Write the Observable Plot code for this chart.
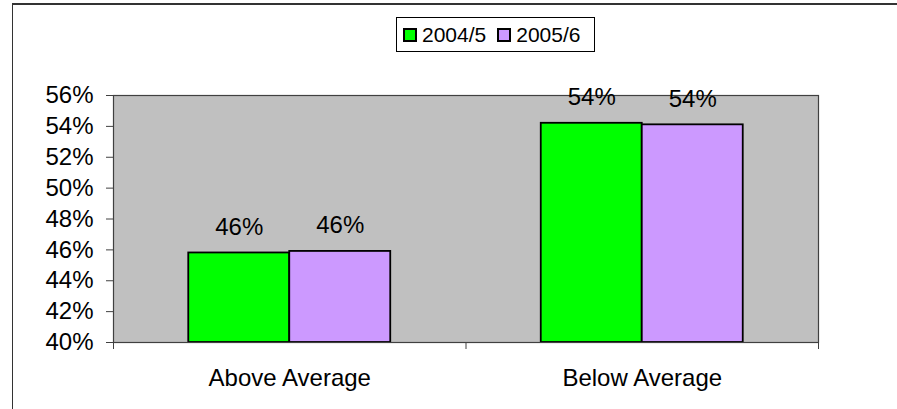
<!DOCTYPE html>
<html>
<head>
<meta charset="utf-8">
<script src="https://cdn.jsdelivr.net/npm/d3@7"></script>
<script src="https://cdn.jsdelivr.net/npm/@observablehq/plot@0.6"></script>
<style>
  html, body { margin: 0; padding: 0; background: #fff; }
  body { width: 897px; height: 409px; position: relative; overflow: hidden; font-family: "Liberation Sans", Arial, sans-serif; }
  #outer { position: absolute; left: 12px; top: 3px; right: -10px; bottom: -10px; border-top: 2px solid #333; border-left: 1px solid #333; pointer-events: none; }
  #head { height: 56px; position: relative; }
  #legend { position: absolute; left: 396px; top: 17px; width: 191px; height: 33px; border: 1px solid #000; display: flex; align-items: center; padding-left: 6px; box-sizing: content-box; font-size: 21px; color: #000; }
  #legend .sw { width: 10px; height: 10px; border: 2px solid #000; margin-right: 5px; }
  #legend .item { display: flex; align-items: center; margin-right: 11px; }
  #chart svg { display: block; }
</style>
</head>
<body>
<div id="head"><div id="legend"></div></div>
<div id="chart"></div>
<div id="outer"></div>
<script>
const categories = ["Above Average", "Below Average"];
const years = ["2004/5", "2005/6"];
const values2004 = [45.8, 54.2];
const values2005 = [45.9, 54.1];
const yTicks = [40, 42, 44, 46, 48, 50, 52, 54, 56];
const colors = ["#00ff00", "#cc99ff"];

const series = [values2004, values2005];
const barWidth = 0.2865; // in category units
const rows = categories.flatMap((c, i) => years.map((yr, j) => ({
  cat: c, ci: i, year: yr, yi: j, value: series[j][i],
  x1: i - barWidth + j * barWidth, x2: i + j * barWidth
})));

// legend
const legend = document.getElementById("legend");
years.forEach((yr, j) => {
  const item = document.createElement("div");
  item.className = "item";
  item.innerHTML = `<div class="sw" style="background:${colors[j]}"></div><span>${yr}</span>`;
  legend.appendChild(item);
});

const plot = Plot.plot({
  width: 897,
  height: 353,
  marginTop: 39,
  marginBottom: 67,
  marginLeft: 113,
  marginRight: 79,
  style: { fontFamily: "Liberation Sans, Arial, sans-serif", fontSize: "24px", color: "#000", background: "transparent" },
  x: { type: "linear", domain: [-0.5, categories.length - 0.5], axis: null },
  y: { domain: [yTicks[0], yTicks[yTicks.length - 1]], axis: null },
  color: { domain: years, range: colors },
  marks: [
    Plot.frame({ fill: "#c0c0c0", stroke: null }),
    Plot.rectY(rows, {
      x1: "x1", x2: "x2", y1: () => yTicks[0], y2: "value",
      fill: "year", stroke: "#000", strokeWidth: 1.8
    }),
    Plot.frame({ stroke: "#404040", strokeWidth: 1.2 }),
    Plot.axisY({ ticks: yTicks, tickFormat: d => d + "%", tickSize: 7, tickPadding: 13, fontSize: 24, stroke: "#404040", label: null }),
    Plot.axisX({ ticks: d3.range(categories.length), tickFormat: i => categories[i], tickSize: 0, tickPadding: 26, fontSize: 24, label: null }),
    Plot.axisX({ ticks: d3.range(categories.length + 1).map(i => i - 0.5), tickFormat: () => "", tickSize: 7, stroke: "#404040", label: null }),
    Plot.text(rows, {
      x: d => (d.x1 + d.x2) / 2, y: "value",
      text: d => d3.format(".0%")(d.value / 100),
      dy: -26, fontSize: 24, fill: "#000", lineAnchor: "middle"
    })
  ]
});
document.getElementById("chart").appendChild(plot);
</script>
</body>
</html>
